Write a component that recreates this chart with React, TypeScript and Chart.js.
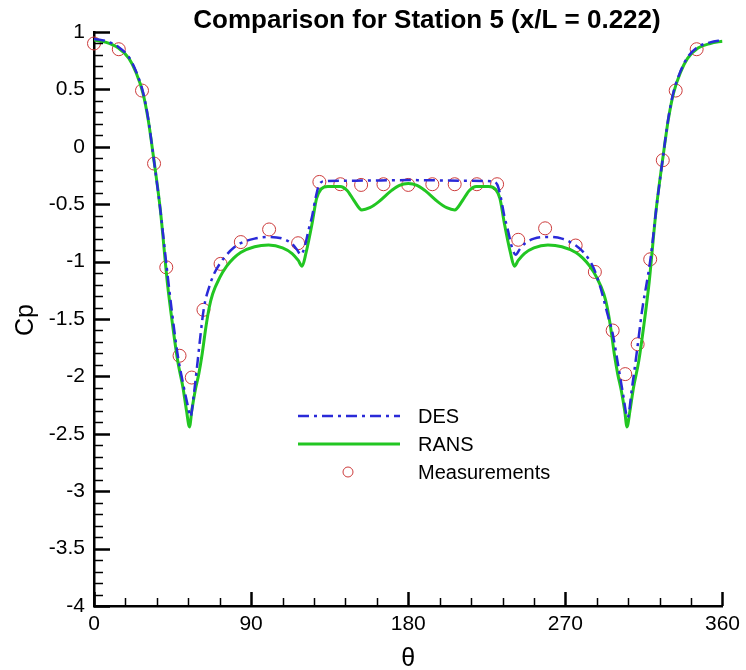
import { useEffect, useRef } from 'react';
import { Chart, registerables } from 'chart.js';

Chart.register(...registerables);

const FONT = 'Arial, "Liberation Sans", Helvetica, sans-serif';

const chartTitle = 'Comparison for Station 5 (x/L = 0.222)';
const xAxisTitle = 'θ';
const yAxisTitle = 'Cp';
const seriesNames = ['DES', 'RANS', 'Measurements'];

const xTicks = [0, 90, 180, 270, 360];
const yTicks = [1, 0.5, 0, -0.5, -1, -1.5, -2, -2.5, -3, -3.5, -4];

const desTheta = [0, 7, 14, 20, 24, 28, 31, 34, 38, 41.5, 44.5, 48, 51, 53.5, 55.3, 57, 59, 61, 63, 66, 69, 72, 76, 80, 84, 92, 100, 108, 113, 116, 118.5, 120.5, 123, 125, 127, 129, 132, 150, 180, 210, 228, 231, 233, 235, 237, 239.5, 241.5, 244, 247, 252, 260, 268, 276, 281, 286, 290, 294, 297, 300, 303, 305.7, 308, 311, 314, 317, 319, 322, 326, 329, 332, 336, 340, 346, 353, 360];
const desCp = [0.94, 0.92, 0.87, 0.78, 0.66, 0.48, 0.25, -0.08, -0.55, -1.03, -1.42, -1.82, -2.06, -2.24, -2.35, -2.18, -1.92, -1.64, -1.4, -1.22, -1.1, -1.02, -0.94, -0.88, -0.84, -0.8, -0.785, -0.8, -0.84, -0.89, -0.94, -0.88, -0.72, -0.6, -0.44, -0.33, -0.3, -0.295, -0.29, -0.295, -0.3, -0.33, -0.44, -0.6, -0.72, -0.88, -0.94, -0.89, -0.84, -0.8, -0.785, -0.8, -0.86, -0.93, -1.05, -1.22, -1.45, -1.62, -1.88, -2.15, -2.36, -2.12, -1.78, -1.42, -1.15, -0.95, -0.55, -0.08, 0.25, 0.48, 0.66, 0.78, 0.87, 0.91, 0.93];

const ransTheta = [0, 7, 14, 20, 24, 28, 31, 34, 38, 42, 45, 48, 51, 53, 54.7, 56, 58, 60, 62, 64, 66, 68, 72, 76, 80, 84, 92, 100, 108, 113.5, 117, 119.2, 121.5, 124.9, 127.5, 130, 134, 141, 145, 149, 153.4, 158, 163, 170.5, 175, 180, 185, 189.5, 197, 202, 206.6, 211, 215, 219, 226, 230, 232.5, 235.1, 238.5, 240.8, 243, 246.5, 252, 260, 268, 276, 280, 284, 288, 292, 294, 296, 298, 300, 302, 304, 305.3, 307, 309, 312, 315, 318, 322, 326, 329, 332, 336, 340, 346, 353, 360];
const ransCp = [0.93, 0.91, 0.86, 0.77, 0.65, 0.47, 0.24, -0.08, -0.55, -1.18, -1.55, -1.87, -2.1, -2.3, -2.44, -2.3, -2.12, -1.98, -1.8, -1.58, -1.4, -1.28, -1.14, -1.04, -0.97, -0.92, -0.87, -0.855, -0.88, -0.93, -0.99, -1.04, -0.92, -0.67, -0.45, -0.37, -0.345, -0.345, -0.38, -0.47, -0.55, -0.53, -0.48, -0.38, -0.335, -0.32, -0.335, -0.38, -0.48, -0.53, -0.55, -0.47, -0.38, -0.345, -0.345, -0.37, -0.45, -0.67, -0.92, -1.04, -0.99, -0.93, -0.88, -0.855, -0.87, -0.92, -0.97, -1.04, -1.14, -1.28, -1.4, -1.58, -1.8, -1.98, -2.12, -2.3, -2.44, -2.3, -2.1, -1.87, -1.55, -1.18, -0.55, -0.08, 0.24, 0.47, 0.65, 0.77, 0.86, 0.9, 0.92];

const measTheta = [0, 14.2, 27.5, 34.4, 41.4, 49, 56, 62.7, 72.5, 84.1, 100.3, 116.9, 129.1, 141.1, 153, 165.8, 180, 193.8, 206.6, 219.3, 230.9, 243, 258.4, 275.9, 286.9, 297.1, 304.3, 311.4, 318.6, 325.8, 333.2, 345.2];
const measCp = [0.9, 0.85, 0.49, -0.146, -1.05, -1.82, -2.01, -1.42, -1.02, -0.83, -0.72, -0.84, -0.306, -0.326, -0.332, -0.326, -0.332, -0.326, -0.326, -0.326, -0.326, -0.81, -0.71, -0.86, -1.09, -1.6, -1.98, -1.72, -0.98, -0.117, 0.49, 0.85];

const DES_COLOR = '#2a2ad8';
const RANS_COLOR = '#22c622';
const MEAS_COLOR = '#cc3b3b';
const DES_DASH = [11, 5, 3, 5];

const toPoints = (xs: number[], ys: number[]) => xs.map((x, i) => ({ x, y: ys[i] }));

const decorPlugin = {
  id: 'decor',
  afterDraw(chart: any) {
    const { ctx, chartArea, scales } = chart;
    const { left, bottom } = chartArea;
    const xs = scales.x;
    const ys = scales.y;
    ctx.save();
    ctx.strokeStyle = '#000';
    // inward ticks on x
    for (let v = xs.min; v <= xs.max + 1e-9; v += 18) {
      const major = Math.abs(v % 90) < 1e-6;
      const px = Math.round(xs.getPixelForValue(v)) + 0.5;
      const len = major ? 14 : 8;
      ctx.lineWidth = major ? 2.5 : 1.5;
      ctx.beginPath();
      ctx.moveTo(px, bottom);
      ctx.lineTo(px, bottom - len);
      ctx.stroke();
    }
    // inward ticks on y
    for (let k = Math.round(ys.min * 10); k <= Math.round(ys.max * 10); k++) {
      const major = k % 5 === 0;
      const py = Math.round(ys.getPixelForValue(k / 10)) + 0.5;
      const len = major ? 16 : 9;
      ctx.lineWidth = major ? 2.5 : 1.5;
      ctx.beginPath();
      ctx.moveTo(left, py);
      ctx.lineTo(left + len, py);
      ctx.stroke();
    }

    ctx.fillStyle = '#000';
    // title
    ctx.font = `bold 26px ${FONT}`;
    ctx.textAlign = 'center';
    ctx.textBaseline = 'alphabetic';
    ctx.fillText(chartTitle, 427, 28);

    // x axis title
    ctx.font = `25px ${FONT}`;
    ctx.fillText(xAxisTitle, xs.getPixelForValue(180), 666);

    // y axis title
    ctx.save();
    ctx.translate(33, 320);
    ctx.rotate(-Math.PI / 2);
    ctx.font = `25px ${FONT}`;
    ctx.textAlign = 'center';
    ctx.fillText(yAxisTitle, 0, 0);
    ctx.restore();

    // legend
    const lx0 = 298;
    const lx1 = 400;
    const tx = 418;
    ctx.font = `20px ${FONT}`;
    ctx.textAlign = 'left';
    ctx.lineWidth = 2.5;
    ctx.strokeStyle = DES_COLOR;
    ctx.setLineDash(DES_DASH);
    ctx.beginPath();
    ctx.moveTo(lx0, 416);
    ctx.lineTo(lx1, 416);
    ctx.stroke();
    ctx.setLineDash([]);
    ctx.strokeStyle = RANS_COLOR;
    ctx.lineWidth = 3;
    ctx.beginPath();
    ctx.moveTo(lx0, 444);
    ctx.lineTo(lx1, 444);
    ctx.stroke();
    ctx.strokeStyle = MEAS_COLOR;
    ctx.lineWidth = 1;
    ctx.beginPath();
    ctx.arc(348, 472, 5, 0, Math.PI * 2);
    ctx.stroke();
    ctx.fillStyle = '#000';
    ctx.fillText(seriesNames[0], tx, 423);
    ctx.fillText(seriesNames[1], tx, 451);
    ctx.fillText(seriesNames[2], tx, 479);
    ctx.restore();
  },
};

export default function App() {
  const ref = useRef<HTMLCanvasElement | null>(null);

  useEffect(() => {
    if (!ref.current) return;
    const chart = new Chart(ref.current, {
      type: 'scatter',
      data: {
        datasets: [
          {
            label: seriesNames[0],
            data: toPoints(desTheta, desCp),
            showLine: true,
            borderColor: DES_COLOR,
            borderWidth: 2.5,
            borderDash: DES_DASH,
            pointRadius: 0,
            cubicInterpolationMode: 'monotone',
            order: 1,
          },
          {
            label: seriesNames[1],
            data: toPoints(ransTheta, ransCp),
            showLine: true,
            borderColor: RANS_COLOR,
            borderWidth: 3,
            pointRadius: 0,
            cubicInterpolationMode: 'monotone',
            order: 2,
          },
          {
            label: seriesNames[2],
            data: toPoints(measTheta, measCp),
            showLine: false,
            pointStyle: 'circle',
            pointRadius: 6.5,
            borderColor: MEAS_COLOR,
            backgroundColor: 'rgba(0,0,0,0)',
            borderWidth: 1,
            clip: false,
            order: 3,
          },
        ] as any,
      },
      options: {
        responsive: false,
        animation: false,
        devicePixelRatio: 1,
        layout: { padding: { top: 32, right: 19, left: 0, bottom: 0 } },
        plugins: {
          legend: { display: false },
          tooltip: { enabled: false },
          title: { display: false },
        },
        scales: {
          x: {
            type: 'linear',
            min: 0,
            max: 360,
            afterBuildTicks: (s: any) => {
              s.ticks = xTicks.map((v) => ({ value: v }));
            },
            afterFit: (s: any) => {
              s.height = 64;
            },
            ticks: {
              color: '#000',
              font: { family: FONT, size: 21 },
              padding: 6,
              maxRotation: 0,
              autoSkip: false,
              callback: (v: any) => String(v),
            },
            grid: { display: true, drawOnChartArea: false, drawTicks: false },
            border: { display: true, color: '#000', width: 2.5 },
          },
          y: {
            type: 'linear',
            min: -4,
            max: 1,
            afterBuildTicks: (s: any) => {
              s.ticks = yTicks.map((v) => ({ value: v }));
            },
            afterFit: (s: any) => {
              s.width = 94;
            },
            ticks: {
              color: '#000',
              font: { family: FONT, size: 21 },
              padding: 9,
              autoSkip: false,
              callback: (v: any) => String(v),
            },
            grid: { display: true, drawOnChartArea: false, drawTicks: false },
            border: { display: true, color: '#000', width: 2.5 },
          },
        },
      } as any,
      plugins: [decorPlugin],
    });
    return () => chart.destroy();
  }, []);

  return (
    <div style={{ position: 'absolute', left: 0, top: 0, width: 746, height: 670, background: '#fff' }}>
      <canvas ref={ref} width={746} height={670} style={{ display: 'block', width: 746, height: 670 }} />
    </div>
  );
}
